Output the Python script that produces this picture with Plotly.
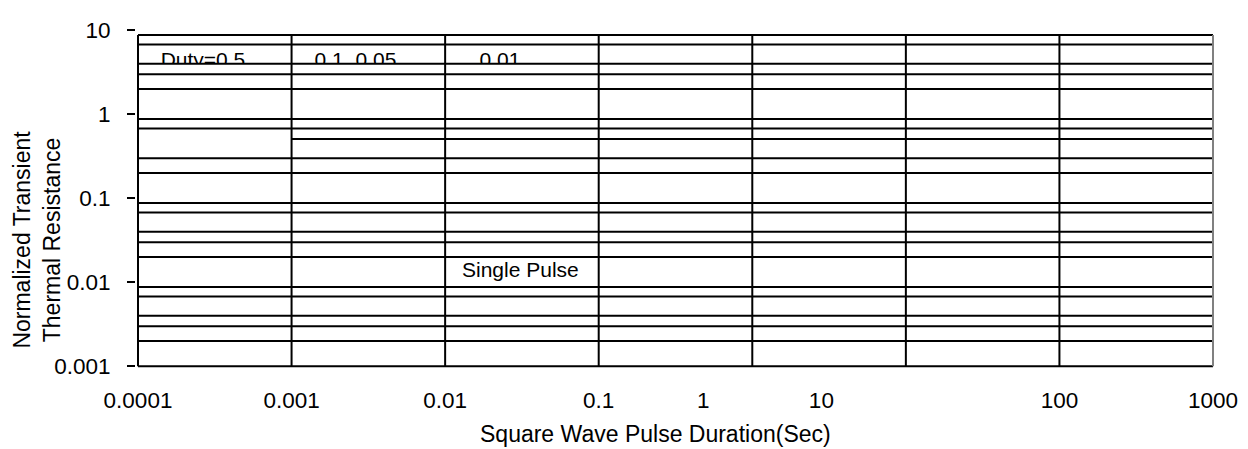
import plotly.graph_objects as go

# ---- data ----
grid_x = [0, 1, 2, 3, 4, 5, 6, 7]                      # vertical grid columns
x_tick_pos = [0, 1, 2, 3, 3.68, 4.45, 6, 7]
x_tick_text = ["0.0001", "0.001", "0.01", "0.1", "1", "10", "100", "1000"]
y_tick_vals = [0.001, 0.01, 0.1, 1, 10]
y_tick_text = ["0.001", "0.01", "0.1", "1", "10"]

full_levels = [8.8, 6.8, 4, 3, 2,
               0.88, 0.68, 0.3, 0.2,
               0.088, 0.068, 0.04, 0.03, 0.02,
               0.0088, 0.0068, 0.004, 0.003, 0.002, 0.001]
partial_levels = [0.51]
partial_start = 1

label_text = ["Duty=0.5", "0.1\u00a0\u00a00.05", "0.01", "Single Pulse"]
label_x = [0.423, 1.416, 2.357, 2.49]
label_y = [4.22, 4.22, 4.22, 0.0135]

mask_band = [4, 3]   # band hiding lower part of duty labels

FONT = "Liberation Sans, Arial, sans-serif"

fig = go.Figure()

fig.add_trace(go.Scatter(
    x=label_x, y=label_y, text=label_text, mode="text",
    textposition="middle center",
    textfont=dict(family=FONT, size=21, color="black"),
    hoverinfo="skip", showlegend=False))

x0, x1 = grid_x[0], grid_x[-1]
fig.add_trace(go.Scatter(
    x=[x0, x1, x1, x0, x0],
    y=[mask_band[0], mask_band[0], mask_band[1], mask_band[1], mask_band[0]],
    fill="toself", fillcolor="white", mode="lines", line=dict(width=0),
    hoverinfo="skip", showlegend=False))

hx, hy = [], []
for v in full_levels:
    hx += [x0, x1, None]
    hy += [v, v, None]
for v in partial_levels:
    hx += [partial_start, x1, None]
    hy += [v, v, None]
fig.add_trace(go.Scatter(x=hx, y=hy, mode="lines",
                         line=dict(color="black", width=2),
                         hoverinfo="skip", showlegend=False))

ylo, yhi = min(full_levels), max(full_levels)
vx, vy = [], []
for g in grid_x[:-1]:
    vx += [g, g, None]
    vy += [ylo, yhi, None]
fig.add_trace(go.Scatter(x=vx, y=vy, mode="lines",
                         line=dict(color="black", width=2),
                         hoverinfo="skip", showlegend=False))
fig.add_trace(go.Scatter(x=[grid_x[-1], grid_x[-1]], y=[ylo, yhi], mode="lines",
                         line=dict(color="#808080", width=2),
                         hoverinfo="skip", showlegend=False))

# page has an 8px body margin: figure is 1240x441 placed at (8, 8)
fig.update_layout(
    width=1240, height=441,
    margin=dict(l=128, r=33, t=10, b=81),
    paper_bgcolor="white", plot_bgcolor="white",
    font=dict(family=FONT, color="black"),
    xaxis=dict(range=[-0.013, 7.013], tickmode="array",
               tickvals=x_tick_pos, ticktext=x_tick_text,
               showgrid=False, zeroline=False, showline=False, ticks="",
               tickfont=dict(size=22.5, color="black"),
               ticklabelstandoff=16),
    yaxis=dict(type="log", range=[-3.02, 1.064], tickmode="array",
               tickvals=y_tick_vals, ticktext=y_tick_text,
               showgrid=False, zeroline=False, showline=False,
               ticks="outside", ticklen=8, tickwidth=2, tickcolor="black",
               tickfont=dict(size=22.5, color="black"),
               ticklabelstandoff=12),
    annotations=[
        dict(text="Square Wave Pulse Duration(Sec)", xref="paper", yref="paper",
             x=(655 - 136) / 1079, y=(368 - 435) / 350,
             xanchor="center", yanchor="middle", showarrow=False,
             font=dict(size=23, color="black")),
        dict(text="Normalized Transient<br>Thermal Resistance", xref="paper", yref="paper",
             x=(37 - 136) / 1079, y=(368 - 237) / 350, textangle=-90,
             xanchor="center", yanchor="middle", showarrow=False,
             font=dict(size=23, color="black")),
    ],
)

fig.write_html("out.html")
